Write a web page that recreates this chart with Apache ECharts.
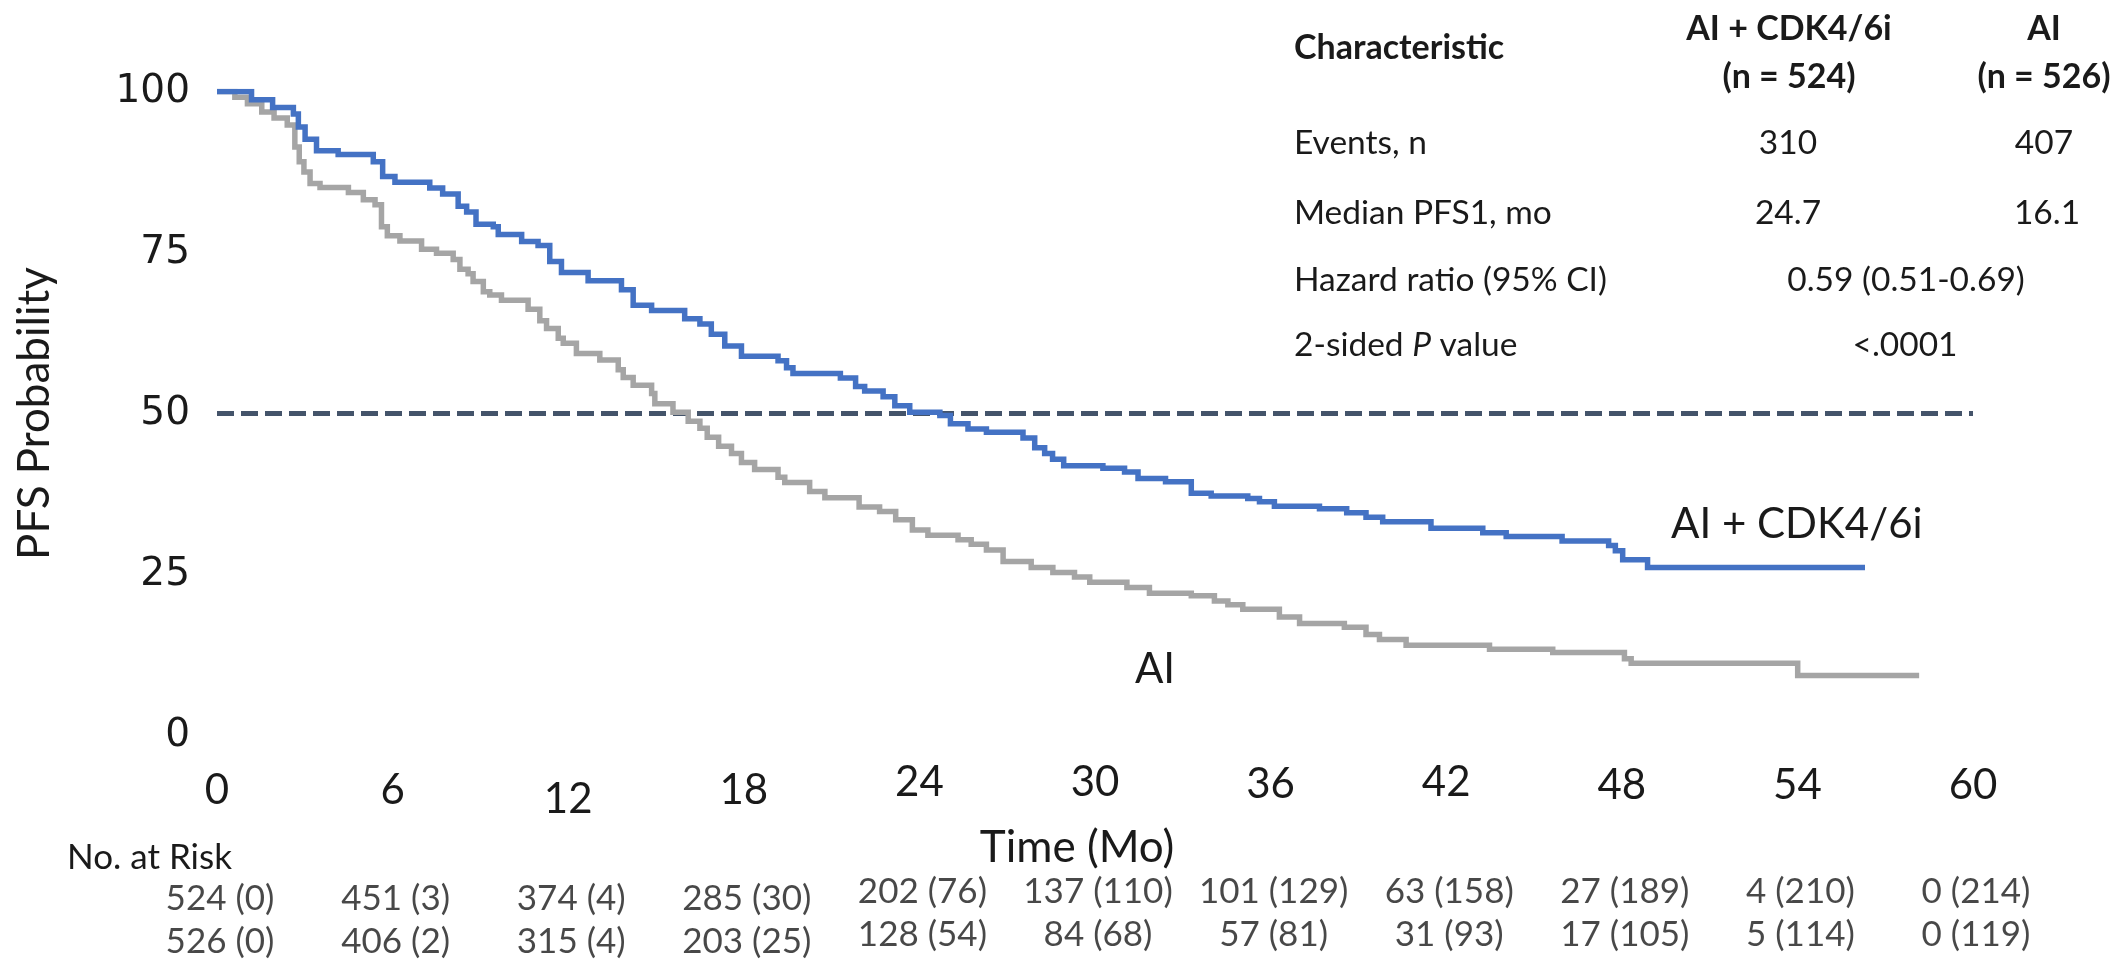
<!DOCTYPE html>
<html>
<head>
<meta charset="utf-8">
<script src="https://cdn.jsdelivr.net/npm/echarts@6/dist/echarts.min.js"></script>
<style>
  html, body { margin: 0; padding: 0; background: #ffffff; }
  #chart { width: 2116px; height: 964px; }
</style>
</head>
<body>
<div id="chart"></div>
<script>
// Kaplan-Meier estimates of PFS1 (%), one point per drop of the step curve.
const cdkTime = [0, 1.18, 1.90, 2.61, 2.78, 3.01, 3.40, 4.14, 5.34, 5.66, 6.08, 7.27, 7.71, 8.24, 8.53, 8.85,
  9.44, 9.61, 10.41, 10.97, 11.37, 11.77, 12.68, 13.82, 14.22, 14.85, 15.98, 16.50, 16.89, 17.35, 17.92,
  19.17, 19.46, 19.68, 21.30, 21.82, 22.13, 22.76, 23.16, 23.67, 24.70, 25.06, 25.66, 26.29, 27.54, 27.94,
  28.28, 28.55, 28.93, 30.27, 31.01, 31.47, 32.41, 33.29, 33.97, 35.22, 35.62, 36.13, 37.67, 38.60, 39.26,
  39.83, 41.48, 43.25, 44.05, 45.96, 47.55, 47.78, 48.03, 48.88, 56.31];
const cdkPfs = [100, 98.7, 97.5, 96.5, 94.5, 92.6, 90.8, 90.2, 89.1, 86.8, 85.9, 85.0, 84.1, 82.2, 81.3, 79.4,
  79.0, 77.8, 76.7, 76.1, 73.6, 71.9, 70.6, 69.2, 66.8, 66.0, 64.7, 63.9, 62.3, 60.5, 58.9,
  58.2, 57.1, 56.2, 55.5, 54.2, 53.5, 52.6, 51.2, 50.2, 49.7, 48.4, 47.6, 47.1, 46.2, 44.7,
  43.8, 42.9, 41.9, 41.5, 40.9, 39.9, 39.4, 37.6, 37.2, 36.8, 36.3, 35.6, 35.2, 34.6, 33.9,
  33.2, 32.2, 31.5, 30.9, 30.2, 29.5, 28.7, 27.3, 26.1, 26.1];

const aiTime = [0, 0.61, 1.04, 1.53, 1.95, 2.40, 2.66, 2.81, 2.97, 3.18, 3.52, 4.49, 5.00, 5.40, 5.62, 5.82,
  6.25, 6.99, 7.50, 8.07, 8.30, 8.58, 8.75, 9.10, 9.32, 9.72, 10.63, 11.03, 11.26, 11.66, 11.83, 12.28,
  13.08, 13.71, 13.88, 14.22, 14.85, 14.96, 15.58, 16.10, 16.50, 16.75, 17.14, 17.58, 17.92, 18.37, 19.17,
  19.40, 20.25, 20.77, 21.94, 22.64, 23.19, 23.76, 24.29, 25.32, 25.77, 26.29, 26.86, 27.82, 28.56, 29.30,
  29.82, 31.09, 31.86, 33.29, 34.08, 34.54, 35.05, 36.30, 36.99, 38.52, 39.26, 39.72, 40.63, 43.48, 45.64,
  48.09, 48.32, 54.01, 58.16];
const aiPfs = [100, 99.1, 98.1, 96.8, 95.9, 94.8, 91.4, 89.1, 87.5, 85.7, 85.1, 84.3, 83.2, 82.4, 79.0, 77.6,
  76.8, 75.5, 74.9, 73.9, 72.4, 71.7, 70.5, 68.9, 68.4, 67.6, 66.2, 64.4, 63.2, 61.7, 60.9, 59.3,
  58.3, 56.8, 55.6, 54.4, 53.1, 51.5, 50.2, 48.8, 47.7, 46.3, 44.9, 43.8, 42.4, 41.3, 40.1,
  39.3, 37.9, 36.9, 35.5, 34.8, 33.5, 31.9, 31.1, 30.4, 29.7, 28.8, 27.0, 26.1, 25.3, 24.6,
  23.8, 23.0, 22.1, 21.7, 20.9, 20.3, 19.6, 18.4, 17.4, 16.8, 15.7, 14.9, 14.0, 13.4, 12.9,
  11.9, 11.2, 9.3, 9.3];

// 50% reference line across the follow-up window
const medianRefTime = [0, 60];
const medianRefPfs = [50, 50];

// Number at risk (cumulative censored) at each 6-month mark
const riskTimes = [0, 6, 12, 18, 24, 30, 36, 42, 48, 54, 60];
const riskCdk = ['524 (0)', '451 (3)', '374 (4)', '285 (30)', '202 (76)', '137 (110)', '101 (129)', '63 (158)', '27 (189)', '4 (210)', '0 (214)'];
const riskAi = ['526 (0)', '406 (2)', '315 (4)', '203 (25)', '128 (54)', '84 (68)', '57 (81)', '31 (93)', '17 (105)', '5 (114)', '0 (119)'];

// Summary table
const armNames = ['AI + CDK4/6i', 'AI'];
const armN = ['(n = 524)', '(n = 526)'];
const rowLabels = ['Events, n', 'Median PFS1, mo', 'Hazard ratio (95% CI)', '2-sided {i|P} value'];
const eventsN = ['310', '407'];
const medianPfs1 = ['24.7', '16.1'];
const hazardRatio = '0.59 (0.51-0.69)';
const pValue = '<.0001';

// ---- styling ----
const BLUE = '#4472C4';
const GRAY = '#A5A5A5';
const DASH = '#44546A';
const INK = '#1a1a1a';
const SANS = 'Lato';

// small vertical shifts of individual month labels
const tickDrop = { 0: 8, 6: 8, 12: 17, 18: 8, 24: 0, 30: 0, 36: 2, 42: 0, 48: 3, 54: 3, 60: 3 };
const tickRich = {};
Object.values(tickDrop).forEach(d => {
  tickRich['d' + d] = { padding: [d, 0, 0, 0], fontFamily: SANS, fontSize: 42, color: INK };
});

const pairs = (xs, ys) => xs.map((x, i) => [x, ys[i]]);

function riskSeries(texts, row) {
  return {
    type: 'scatter',
    xAxisIndex: 1,
    yAxisIndex: 1,
    symbolSize: 1,
    itemStyle: { color: 'rgba(0,0,0,0)' },
    silent: true,
    data: riskTimes.map((t, i) => ({
      value: [t, row],
      label: { formatter: texts[i], offset: [3, t >= 24 ? -7 : 0] }
    })),
    label: {
      show: true,
      position: 'inside',
      fontFamily: SANS,
      fontSize: 35,
      color: INK
    }
  };
}

function txt(text, x, y, size, align, weight, extra) {
  return {
    type: 'text',
    x: x,
    y: y,
    silent: true,
    style: Object.assign({
      text: text,
      fill: INK,
      fontFamily: SANS,
      fontSize: size,
      fontWeight: weight || 'normal',
      align: align,
      textAlign: align,
      verticalAlign: 'middle',
      textVerticalAlign: 'middle'
    }, extra || {})
  };
}

const headX = [1789, 2044];
const bodySize = 33.5;
const headSize = 34;
const graphics = [
  txt('Characteristic', 1294, 48, headSize, 'left', 'bold'),
  txt(armNames[0], headX[0], 29, headSize, 'center', 'bold'),
  txt(armN[0], headX[0], 77, headSize, 'center', 'bold'),
  txt(armNames[1], headX[1], 29, headSize, 'center', 'bold'),
  txt(armN[1], headX[1], 77, headSize, 'center', 'bold'),
  txt(rowLabels[0], 1294, 143, bodySize, 'left'),
  txt(rowLabels[1], 1294, 213, bodySize, 'left'),
  txt(rowLabels[2], 1294, 280, bodySize, 'left'),
  txt(rowLabels[3], 1294, 345, bodySize, 'left', 'normal', {
    rich: { i: { fontStyle: 'italic', fontFamily: SANS, fontSize: bodySize, fill: INK } }
  }),
  txt(eventsN[0], 1788, 143, bodySize, 'center'),
  txt(eventsN[1], 2044, 143, bodySize, 'center'),
  txt(medianPfs1[0], 1788, 213, bodySize, 'center'),
  txt(medianPfs1[1], 2047, 213, bodySize, 'center'),
  txt(hazardRatio, 1906, 280, bodySize, 'center'),
  txt(pValue, 1905, 345, bodySize, 'center'),
  txt('No. at Risk', 67, 858, 35, 'left')
];

const chart = echarts.init(document.getElementById('chart'), null, { renderer: 'canvas' });

chart.setOption({
  animation: false,
  backgroundColor: '#ffffff',
  grid: [
    { left: 217, right: 143, top: 91.5, bottom: 228.5, containLabel: false },
    { left: 217, right: 143, top: 876.5, height: 94, containLabel: false }
  ],
  xAxis: [
    {
      type: 'value',
      gridIndex: 0,
      min: 0,
      max: 60,
      interval: 6,
      axisLine: { show: false },
      axisTick: { show: false },
      splitLine: { show: false },
      axisLabel: {
        margin: 26,
        formatter: v => '{d' + (tickDrop[v] || 0) + '|' + v + '}',
        rich: tickRich,
        fontFamily: SANS,
        fontSize: 42,
        color: INK
      },
      name: 'Time (Mo)',
      nameLocation: 'middle',
      nameGap: 81,
      nameTextStyle: { fontFamily: SANS, fontSize: 44, color: INK, padding: [0, 36, 0, 0] }
    },
    { type: 'value', gridIndex: 1, min: 0, max: 60, show: false }
  ],
  yAxis: [
    {
      type: 'value',
      gridIndex: 0,
      min: 0,
      max: 100,
      interval: 25,
      axisLine: { show: false },
      axisTick: { show: false },
      splitLine: { show: false },
      axisLabel: { margin: 27, fontFamily: 'DejaVu Sans', fontSize: 39, color: INK },
      name: 'PFS Probability',
      nameLocation: 'middle',
      nameGap: 160,
      nameTextStyle: { fontFamily: SANS, fontSize: 44, color: INK }
    },
    {
      type: 'category',
      gridIndex: 1,
      data: armNames,
      inverse: true,
      show: false
    }
  ],
  graphic: graphics,
  series: [
    {
      name: 'Median',
      type: 'line',
      data: pairs(medianRefTime, medianRefPfs),
      symbol: 'none',
      silent: true,
      lineStyle: { color: DASH, width: 5, type: [17, 7], cap: 'butt' },
      z: 1
    },
    {
      name: armNames[1],
      type: 'line',
      step: 'end',
      data: pairs(aiTime, aiPfs),
      symbol: 'none',
      lineStyle: { color: GRAY, width: 5.5, cap: 'butt', join: 'miter' },
      markPoint: {
        symbol: 'circle',
        symbolSize: 0,
        silent: true,
        data: [{ coord: [32.05, 10.3], value: 0 }],
        label: { show: true, position: 'inside', formatter: armNames[1], fontFamily: SANS, fontSize: 42, color: INK }
      },
      z: 2
    },
    {
      name: armNames[0],
      type: 'line',
      step: 'end',
      data: pairs(cdkTime, cdkPfs),
      symbol: 'none',
      lineStyle: { color: BLUE, width: 5.5, cap: 'butt', join: 'miter' },
      markPoint: {
        symbol: 'circle',
        symbolSize: 0,
        silent: true,
        data: [{ coord: [53.98, 32.7], value: 0 }],
        label: { show: true, position: 'inside', formatter: armNames[0], fontFamily: SANS, fontSize: 42, color: INK }
      },
      z: 3
    },
    riskSeries(riskCdk, 0),
    riskSeries(riskAi, 1)
  ]
});
</script>
</body>
</html>
